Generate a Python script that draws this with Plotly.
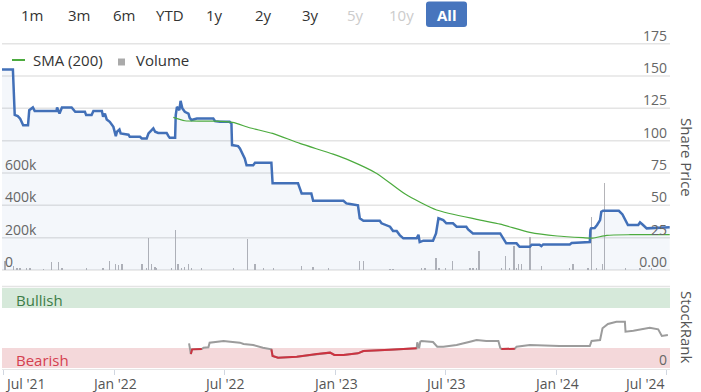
import plotly.graph_objects as go

# ---------------- data ----------------
price_dates = ['2021-06-29','2021-07-17','2021-07-20','2021-07-25','2021-07-29','2021-08-03','2021-08-11','2021-08-13','2021-08-19','2021-08-22',
               '2021-09-27','2021-09-28','2021-10-02','2021-10-06','2021-10-22','2021-10-25','2021-10-28','2021-11-13','2021-11-15','2021-11-24',
               '2021-11-27','2021-12-11','2021-12-13','2021-12-16','2021-12-19','2021-12-24','2021-12-30','2022-01-03','2022-01-05','2022-01-09',
               '2022-01-11','2022-01-24','2022-01-26','2022-02-12','2022-02-15','2022-02-23','2022-02-26','2022-03-06','2022-03-09','2022-03-14',
               '2022-03-28','2022-03-31','2022-04-02','2022-04-11','2022-04-12','2022-04-14','2022-04-18','2022-04-20','2022-04-23','2022-04-27',
               '2022-05-03','2022-05-05','2022-05-08','2022-05-17','2022-06-13','2022-06-16','2022-06-24','2022-07-10','2022-07-13','2022-07-14',
               '2022-07-24','2022-07-27','2022-07-31','2022-08-04','2022-08-07','2022-08-18','2022-08-21','2022-09-17','2022-09-19','2022-10-31',
               '2022-11-03','2022-11-06','2022-11-22','2022-11-25','2023-01-14','2023-01-19','2023-01-25','2023-02-07','2023-02-10','2023-02-16',
               '2023-03-15','2023-03-18','2023-04-01','2023-04-06','2023-04-12','2023-04-17','2023-04-23','2023-05-15','2023-05-18','2023-05-20',
               '2023-05-26','2023-06-11','2023-06-16','2023-06-20','2023-06-28','2023-07-03','2023-07-14','2023-07-20','2023-08-05','2023-08-08',
               '2023-08-16','2023-09-30','2023-10-05','2023-10-10','2023-10-27','2023-11-01','2023-11-18','2023-11-21','2023-12-04','2023-12-07',
               '2023-12-10','2024-01-23','2024-01-26','2024-02-14','2024-02-25','2024-02-26','2024-02-27','2024-03-04','2024-03-08','2024-03-13',
               '2024-03-15','2024-03-18','2024-04-13','2024-04-19','2024-04-25','2024-04-28','2024-05-15','2024-05-18','2024-05-23','2024-05-29',
               '2024-07-06']
price_values = [155,155,120,119,117,112,112,123.6,125.7,123,
                123,125.7,121,125.7,125.7,123.6,122.3,122.3,119.8,119.8,
                123,123,118.5,121,116.4,114.6,110.7,103.5,106.9,108.7,
                105.6,104.6,103,103,101.7,101.7,105.6,109.5,106.9,106,
                106,103.5,102.2,102.2,119.8,126.2,123.6,130.8,124.9,122.3,
                121,117.6,116,117.2,117.2,115.1,114.6,114.6,113.3,96.6,
                95.8,94,89.6,86.3,81,81,82.9,82.9,67,67,
                63.1,59.2,59.2,53.5,53.5,51.5,51,50,40,38.1,
                38.1,36.1,33.5,30.1,30.1,27,24.5,24.5,27.3,21.6,
                22.7,22.7,28.3,40,38.6,36.1,36.1,33.5,33.5,31.4,
                28.3,28.3,24.5,20.6,20.6,18,18,19.6,19.6,18.5,
                19.8,19.8,20.8,21.6,21.6,30.9,32.2,32.5,34.8,38.6,
                45,45.8,45.8,43,37.3,34.8,34.8,36.8,34.8,32.2,
                33]

sma_dates = ['2022-04-08','2022-04-27','2022-06-12','2022-07-15','2022-08-12','2022-09-19','2022-11-03','2022-12-28','2023-01-25','2023-03-10',
             '2023-04-26','2023-06-17','2023-08-22','2023-09-30','2023-11-18','2024-01-02','2024-02-14','2024-03-01','2024-03-24','2024-05-02',
             '2024-07-06']
sma_values = [118,115.4,115.1,114.1,110,105.6,97.9,89.6,84.6,74.7,
              58.7,46.4,39.2,35.5,29.1,26.3,25,24.7,26.8,27.3,
              27.3]

vol_dates = ['2021-07-04','2021-07-18','2021-07-24','2021-07-29','2021-08-09','2021-08-14','2021-09-05','2021-09-19','2021-09-30','2021-10-06',
             '2021-11-16','2021-12-13','2021-12-24','2022-01-02','2022-01-07','2022-01-13','2022-02-15','2022-02-23','2022-02-26','2022-03-03',
             '2022-03-09','2022-03-11','2022-04-05','2022-04-12','2022-04-16','2022-04-22','2022-04-27','2022-05-03','2022-05-08','2022-05-25',
             '2022-07-16','2022-08-08','2022-08-21','2022-09-04','2022-09-20','2022-11-06','2022-11-25','2022-12-20','2023-02-10','2023-02-16',
             '2023-04-01','2023-04-06','2023-05-23','2023-05-29','2023-06-16','2023-06-21','2023-07-02','2023-07-13','2023-08-11','2023-08-16',
             '2023-08-22','2023-08-26','2023-10-02','2023-10-09','2023-10-15','2023-10-23','2023-10-27','2023-10-30','2023-11-04','2023-11-18',
             '2023-12-07','2024-01-23','2024-01-28','2024-02-22','2024-02-28','2024-03-07','2024-03-17','2024-03-20','2024-04-24','2024-05-18',
             '2024-06-06']
vol_values = [55000,25000,14000,10000,10000,14000,4000,51000,49000,14000,
              10000,14000,55000,35000,29000,35000,35000,14000,199000,35000,
              18000,10000,10000,250000,35000,10000,18000,35000,14000,14000,
              10000,189000,35000,10000,14000,25000,18000,14000,55000,55000,
              4000,4000,10000,14000,76000,10000,14000,55000,10000,14000,
              10000,117000,10000,86000,10000,148000,10000,35000,35000,203000,
              25000,14000,35000,10000,328000,10000,35000,537000,14000,10000,
              14000]

rank_dates = ['2022-05-04','2022-05-05','2022-05-07','2022-05-09','2022-05-25','2022-05-28','2022-06-05','2022-06-07','2022-06-19','2022-06-30',
              '2022-07-11','2022-07-27','2022-08-02','2022-08-18','2022-09-03','2022-09-17','2022-09-19','2022-09-28','2022-10-29','2022-12-01',
              '2022-12-23','2022-12-30','2023-01-14','2023-02-07','2023-02-16','2023-04-01','2023-05-15','2023-05-16','2023-05-19','2023-05-21',
              '2023-05-23','2023-06-11','2023-06-18','2023-06-28','2023-07-20','2023-08-11','2023-08-22','2023-09-07','2023-09-27','2023-09-30',
              '2023-10-02','2023-10-24','2023-10-27','2023-11-18','2023-12-10','2024-01-06','2024-02-25','2024-02-28','2024-03-13','2024-03-17',
              '2024-03-26','2024-04-09','2024-04-23','2024-04-24','2024-05-07','2024-05-21','2024-06-03','2024-06-17','2024-06-23','2024-07-03']
rank_values = [30.8,26.7,17.5,23.3,23.8,25.4,25.8,31.7,32.9,33.8,
               32.9,31.7,30,28.8,25.4,23.3,15,12.9,14.2,17.5,
               19.2,16.3,16.3,18.3,21.3,22.9,24.6,32.1,24.6,32.9,
               33.8,32.5,26.7,26.7,28.8,32.9,35,33.8,33.8,25.4,
               23.8,24,26.7,28.8,28,27.5,27.5,33.8,35,49.6,
               55,57.9,57.9,45.4,46.7,48.3,50.4,48.3,40,41.3]
bearish_limit = 25

xtick_dates = ['2021-07-01','2022-01-01','2022-07-01','2023-01-01','2023-07-01','2024-01-01','2024-07-01']
xtick_labels = ["Jul '21","Jan '22","Jul '22","Jan '23","Jul '23","Jan '24","Jul '24"]
price_ticks = [0,25,50,75,100,125,150,175]
price_tick_labels = ['0.00','25','50','75','100','125','150','175']
vol_ticks = [0,200000,400000,600000]
vol_tick_labels = ['0','200k','400k','600k']
range_labels = ['1m','3m','6m','YTD','1y','2y','3y','5y','10y','All']

# ---------------- layout helpers ----------------
W, H = 701, 392
L, R, T, B = 2, 31, 42, 23
PW, PH = W - L - R, H - T - B
def px(x):
    return (x - L) / PW
def py(y):
    return (H - B - y) / PH

FONT = 'Open Sans'
fig = go.Figure()

fig.add_trace(go.Bar(x=vol_dates, y=vol_values, yaxis='y', xaxis='x',
                     marker=dict(color='#b4b4b8', line=dict(width=0)),
                     width=2.2*86400000, hoverinfo='skip'))
fig.add_trace(go.Scatter(x=price_dates, y=price_values, yaxis='y2', xaxis='x', mode='lines',
                         line=dict(color='#4270b8', width=2.5), fill='tozeroy',
                         fillcolor='rgba(70,112,184,0.06)', hoverinfo='skip'))
fig.add_trace(go.Scatter(x=sma_dates, y=sma_values, yaxis='y2', xaxis='x', mode='lines',
                         line=dict(color='#4cab3e', width=1.2, shape='spline', smoothing=0.6),
                         hoverinfo='skip'))
fig.add_trace(go.Scatter(x=rank_dates, y=rank_values, yaxis='y3', xaxis='x', mode='lines',
                         line=dict(color='#9c9c9c', width=2), hoverinfo='skip'))
red_vals = [v if v < bearish_limit else None for v in rank_values]
fig.add_trace(go.Scatter(x=rank_dates, y=red_vals, yaxis='y3', xaxis='x', mode='lines',
                         line=dict(color='#cc3340', width=2), connectgaps=False, hoverinfo='skip'))

shapes = []
# price grid lines
for t in price_ticks:
    shapes.append(dict(type='line', xref='paper', yref='y2', x0=0, x1=1, y0=t, y1=t,
                       line=dict(color='#e4e4e4', width=1.5), layer='below'))
# StockRank bands
shapes.append(dict(type='rect', xref='paper', yref='y3', x0=0, x1=1, y0=75, y1=100,
                   fillcolor='#d6e9da', line=dict(width=0), layer='below'))
shapes.append(dict(type='rect', xref='paper', yref='y3', x0=0, x1=1, y0=0, y1=25,
                   fillcolor='#f4d8da', line=dict(width=0), layer='below'))
shapes.append(dict(type='line', xref='paper', yref='paper', x0=0, x1=1, y0=py(286.5), y1=py(286.5),
                   line=dict(color='#e4e4e4', width=1.5), layer='below'))
# legend symbols
shapes.append(dict(type='line', xref='paper', yref='paper', x0=px(12), x1=px(25), y0=py(60), y1=py(60),
                   line=dict(color='#4cab3e', width=2)))
shapes.append(dict(type='rect', xref='paper', yref='paper', x0=px(118), x1=px(125), y0=py(65.5), y1=py(58.5),
                   fillcolor='#aaaaaa', line=dict(width=0)))
# "All" button (rounded rectangle)
bx0, bx1, by0, by1, rad = 426, 467, 1.5, 27, 3
def P(x, y):
    return f'{px(x)},{py(y)}'
btn_path = (f'M {P(bx0 + rad, by0)} L {P(bx1 - rad, by0)} Q {P(bx1, by0)} {P(bx1, by0 + rad)} '
            f'L {P(bx1, by1 - rad)} Q {P(bx1, by1)} {P(bx1 - rad, by1)} '
            f'L {P(bx0 + rad, by1)} Q {P(bx0, by1)} {P(bx0, by1 - rad)} '
            f'L {P(bx0, by0 + rad)} Q {P(bx0, by0)} {P(bx0 + rad, by0)} Z')
shapes.append(dict(type='path', xref='paper', yref='paper', path=btn_path,
                   fillcolor='#4775bd', line=dict(width=0)))

ann = []
btn_x = [32, 79, 124, 170, 214, 263, 310, 355, 402, 446.5]
for lab, bx in zip(range_labels, btn_x):
    if lab == 'All':
        ann.append(dict(text='<b>All</b>', x=px(bx), y=py(14.5), xref='paper', yref='paper', showarrow=False,
                        font=dict(family=FONT, size=15, color='white'), xanchor='center', yanchor='middle'))
    else:
        col = '#cccccc' if lab in ('5y', '10y') else '#333333'
        ann.append(dict(text=lab, x=px(bx), y=py(15), xref='paper', yref='paper', showarrow=False,
                        font=dict(family=FONT, size=15, color=col), xanchor='center', yanchor='middle'))
# legend texts
ann.append(dict(text='SMA (200)', x=px(31), y=py(60), xref='paper', yref='paper', showarrow=False,
                font=dict(family=FONT, size=15, color='#333333'), xanchor='left', yanchor='middle'))
ann.append(dict(text='Volume', x=px(134), y=py(60), xref='paper', yref='paper', showarrow=False,
                font=dict(family=FONT, size=15, color='#333333'), xanchor='left', yanchor='middle'))
# band labels
ann.append(dict(text='Bullish', x=px(14), y=py(300), xref='paper', yref='paper', showarrow=False,
                font=dict(family=FONT, size=15, color='#3d7d47'), xanchor='left', yanchor='middle'))
ann.append(dict(text='Bearish', x=px(14), y=py(360), xref='paper', yref='paper', showarrow=False,
                font=dict(family=FONT, size=15, color='#d4404f'), xanchor='left', yanchor='middle'))
# axis titles
ann.append(dict(text='Share Price', x=px(687), y=py(157), xref='paper', yref='paper', showarrow=False,
                textangle=90, font=dict(family=FONT, size=15, color='#555555'), xanchor='center', yanchor='middle'))
ann.append(dict(text='StockRank', x=px(687), y=py(327), xref='paper', yref='paper', showarrow=False,
                textangle=90, font=dict(family=FONT, size=15, color='#555555'), xanchor='center', yanchor='middle'))
# x tick labels
for i, (d, lab) in enumerate(zip(xtick_dates, xtick_labels)):
    anchor = 'left' if i == 0 else ('right' if i == len(xtick_dates) - 1 else 'center')
    ann.append(dict(text=lab, x=d, y=py(383.5), xref='x', yref='paper', showarrow=False,
                    font=dict(family=FONT, size=14, color='#555555'), xanchor=anchor, yanchor='middle'))

PX_PER_UNIT = (270 - 43.7) / 175.0
pad = 1.0 / PX_PER_UNIT           # one pixel of headroom on each side of the price panel
VOL_PER_PRICE = 8000              # 200k volume per 25 of price

fig.update_layout(
    width=W, height=H, margin=dict(l=L, r=R, t=T, b=B, autoexpand=False),
    paper_bgcolor='white', plot_bgcolor='white', showlegend=False,
    font=dict(family=FONT, size=14, color='#666666'),
    bargap=0, hovermode=False,
    shapes=shapes, annotations=ann,
    xaxis=dict(type='date', range=['2021-06-29', '2024-07-06 12:00'], anchor='y3', automargin=False,
               showgrid=False, zeroline=False, showticklabels=False,
               tickmode='array', tickvals=xtick_dates, ticks='outside', ticklen=5,
               tickcolor='#d0d6e0', showline=True, linecolor='#e6e6e6', linewidth=1),
    yaxis=dict(domain=[py(271), py(42.7)], range=[-pad * VOL_PER_PRICE, (175 + pad) * VOL_PER_PRICE],
               side='left', anchor='x', automargin=False,
               tickmode='array', tickvals=vol_ticks, ticktext=vol_tick_labels,
               ticklabelposition='inside', ticklabelshift=-8, ticklabeloverflow='allow',
               showgrid=False, zeroline=False,
               tickfont=dict(family=FONT, size=14, color='#666666')),
    yaxis2=dict(overlaying='y', side='right', range=[-pad, 175 + pad], anchor='x', automargin=False,
                tickmode='array', tickvals=price_ticks, ticktext=price_tick_labels,
                ticklabelposition='inside', ticklabelshift=-8, ticklabeloverflow='allow',
                showgrid=False, zeroline=False,
                tickfont=dict(family=FONT, size=14, color='#666666')),
    yaxis3=dict(domain=[0, py(286)], range=[-1.25, 102.5], side='right', anchor='x', automargin=False,
                tickmode='array', tickvals=[0], ticktext=['0'],
                ticklabelposition='inside', ticklabelshift=-8, ticklabeloverflow='allow',
                showgrid=False, zeroline=False,
                tickfont=dict(family=FONT, size=14, color='#666666')),
)

fig.write_html('out.html', config={'displayModeBar': False, 'staticPlot': True},
               post_script="document.body.style.margin='0';document.body.style.padding='0';")
